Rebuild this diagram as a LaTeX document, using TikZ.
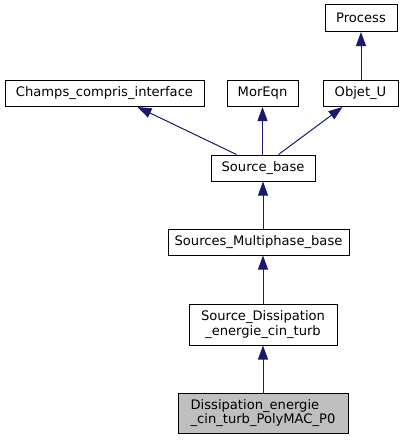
\documentclass[tikz,border=0pt]{standalone}
\usepackage{fontspec}
\setmainfont{DejaVu Sans}
\usetikzlibrary{calc,arrows.meta}
\definecolor{edgeblue}{HTML}{191970}
\definecolor{grayfill}{HTML}{BFBFBF}
\begin{document}
\begin{tikzpicture}[x=1pt,y=-1pt,
  box/.style={draw=black, line width=1pt, inner sep=0pt, font=\fontsize{13.1}{14.5}\selectfont, text=black},
  edge/.style={draw=edgeblue, line width=1pt, {Triangle[length=14pt,width=10pt,fill=edgeblue]}-}]
\useasboundingbox (0,0) rectangle (403,440);
\node[box, minimum width=72pt, minimum height=27pt] (proc) at (361,18) {Process};
\node[box, minimum width=199pt, minimum height=26pt] (champs) at (104.5,93.5) {Champs\_compris\_interface};
\node[box, minimum width=71pt, minimum height=26pt] (mor) at (262.5,93.5) {MorEqn};
\node[box, minimum width=75pt, minimum height=26pt] (obj) at (360.5,93.5) {Objet\_U};
\node[box, minimum width=104pt, minimum height=26pt] (sb) at (263,168) {Source\_base};
\node[box, minimum width=181pt, minimum height=26pt] (smb) at (258.5,242) {Sources\_Multiphase\_base};
\node[box, minimum width=148pt, minimum height=41pt, align=center] (sd) at (263,324.5) {Source\_Dissipation\\\_energie\_cin\_turb};
\node[box, fill=grayfill, minimum width=170pt, minimum height=40pt, align=left] (dp) at (263,413) {Dissipation\_energie\\\_cin\_turb\_PolyMAC\_P0};
\draw[edge] (proc.south) -- (obj.north -| proc);
\draw[edge] ($(champs.south west)+(133,0)$) -- ($(sb.north west)+(26,0)$);
\draw[edge] (mor.south) -- (mor.south |- sb.north);
\draw[edge] ($(obj.south west)+(20,0)$) -- ($(sb.north west)+(68,0)$);
\draw[edge] (sb.south) -- (sb.south |- smb.north);
\draw[edge] (smb.south -| sd.north) -- (sd.north);
\draw[edge] (sd.south) -- (dp.north);
\end{tikzpicture}
\end{document}
